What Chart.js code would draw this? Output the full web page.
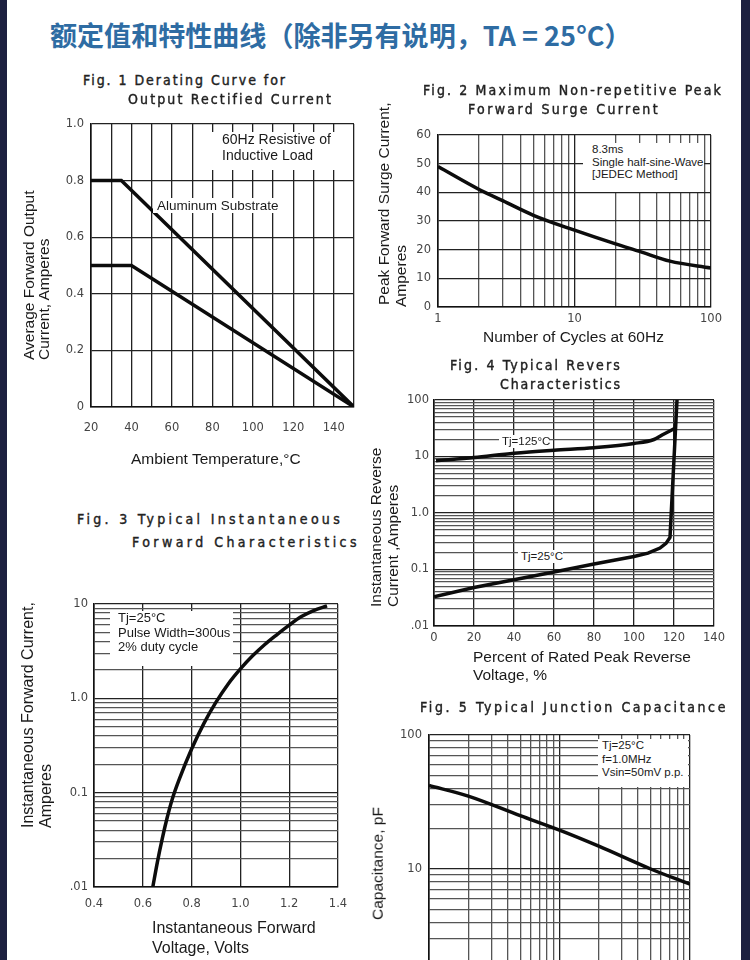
<!DOCTYPE html>
<html>
<head>
<meta charset="utf-8">
<script src="https://cdn.jsdelivr.net/npm/chart.js@4.4.1/dist/chart.umd.min.js"></script>
<style>
  html, body { margin: 0; padding: 0; }
  body { width: 750px; height: 960px; overflow: hidden; position: relative; background: #1c2040; font-family: "Liberation Sans", Arial, sans-serif; color: #1a1a1a; }
  #sheet { position: absolute; left: 7px; top: 0; width: 734px; height: 960px; background: #fff; }
  .wrap { position: absolute; }
  .t { position: absolute; white-space: nowrap; }
  .fig { position: absolute; white-space: nowrap; font-family: "DejaVu Sans Condensed", "DejaVu Sans", sans-serif; font-weight: normal; font-size: 14px; line-height: 18px; color: #222; -webkit-text-stroke: 0.4px #222; }
  .note { position: absolute; background: #fff; color: #1a1a1a; }
  #title { position: absolute; left: 50px; top: 17px; font-family: "Noto Sans CJK SC", sans-serif; font-weight: 700; font-size: 27px; line-height: 36px; color: #2e6ca3; white-space: nowrap; }
</style>
</head>
<body>
<div id="sheet"></div>
<div id="title">额定值和特性曲线（除非另有说明，TA = 25°C）</div>

<script>
// Fig. 1 derating curves
const fig1AluminumTemp = [20, 35, 150]
const fig1AluminumAmps = [0.8, 0.8, 0]
const fig1StandardTemp = [20, 40, 150]
const fig1StandardAmps = [0.5, 0.5, 0]
const fig1XGrid = [20, 30, 40, 50, 60, 70, 80, 90, 100, 110, 120, 130, 140, 150]
const fig1XTicks = [20, 40, 60, 80, 100, 120, 140]
const fig1XLabels = ['20', '40', '60', '80', '100', '120', '140']
const fig1YTicks = [0, 0.2, 0.4, 0.6, 0.8, 1.0]
const fig1YLabels = ['0', '0.2', '0.4', '0.6', '0.8', '1.0']

// Fig. 2 surge current
const fig2Cycles = [1, 2, 3, 5, 10, 20, 30, 50, 100]
const fig2SurgeAmps = [49, 41, 37, 32, 26.8, 22, 19.4, 16, 13.6]
const fig2XTicks = [1, 10, 100]
const fig2XLabels = ['1', '10', '100']
const fig2YTicks = [0, 10, 20, 30, 40, 50, 60]
const fig2YLabels = ['0', '10', '20', '30', '40', '50', '60']

// Fig. 3 forward characteristics
const fig3Volts = [0.641, 0.66, 0.68, 0.70, 0.72, 0.75, 0.80, 0.85, 0.90, 0.95, 1.0, 1.05, 1.1, 1.15, 1.2, 1.25, 1.3, 1.355]
const fig3Amps = [0.01, 0.0185, 0.0328, 0.0545, 0.0843, 0.14, 0.29, 0.54, 0.91, 1.42, 2.05, 2.82, 3.72, 4.74, 5.97, 7.35, 8.53, 9.55]
const fig3XGrid = [0.4, 0.6, 0.8, 1.0, 1.2, 1.4]
const fig3XLabels = ['0.4', '0.6', '0.8', '1.0', '1.2', '1.4']
const fig3YTicks = [0.01, 0.1, 1, 10]
const fig3YLabels = ['.01', '0.1', '1.0', '10']

// Fig. 4 reverse characteristics
const fig4Percent125 = [1, 20, 40, 60, 80, 100, 110, 115, 120.8]
const fig4Amps125 = [8.4, 9.6, 11.4, 12.9, 14.3, 17, 20, 25, 32]
const fig4Percent25 = [0, 20, 40, 60, 80, 100, 107, 113, 116, 118, 121.5]
const fig4Amps25 = [0.033, 0.048, 0.066, 0.09, 0.125, 0.17, 0.195, 0.24, 0.29, 0.37, 100]
const fig4XGrid = [0, 20, 40, 60, 80, 100, 120, 140]
const fig4XLabels = ['0', '20', '40', '60', '80', '100', '120', '140']
const fig4YTicks = [0.01, 0.1, 1, 10, 100]
const fig4YLabels = ['.01', '0.1', '1.0', '10', '100']

// Fig. 5 junction capacitance
const fig5Volts = [1, 2, 5, 10, 20, 50, 100]
const fig5PicoFarads = [42, 35, 25, 19.5, 14.8, 10, 7.7]
const fig5YTicks = [1, 10, 100]
const fig5YLabels = ['1', '10', '100']

const PAD = 24
const AXIS_W = 40
const AXIS_H = 30

// 1,2,...9 per decade for log grids
function logGrid(fromExp, toExp) {
  const out = []
  for (let e = fromExp; e < toExp; e++) {
    for (let k = 1; k < 10; k++) out.push(Number((k * Math.pow(10, e)).toPrecision(6)))
  }
  out.push(Math.pow(10, toExp))
  return out
}

function isDecade(v) {
  const l = Math.log10(v)
  return Math.abs(l - Math.round(l)) < 1e-9
}

function labelFor(v, values, labels) {
  const i = values.findIndex(t => Math.abs(t - v) < 1e-9 * Math.max(1, Math.abs(t)))
  return i < 0 ? '' : labels[i]
}

function makeScale(o) {
  const isX = o.axis === 'x'
  return {
    type: o.type,
    min: o.min,
    max: o.max,
    position: isX ? 'bottom' : 'left',
    afterBuildTicks: s => { s.ticks = o.grid.map(v => ({ value: v })) },
    afterFit: s => {
      if (isX) { s.height = AXIS_H; s.paddingLeft = 0; s.paddingRight = 0 }
      else { s.width = AXIS_W; s.paddingTop = 0; s.paddingBottom = 0 }
    },
    ticks: {
      autoSkip: false,
      maxRotation: 0,
      padding: o.pad,
      color: '#444',
      font: { family: 'DejaVu Sans', size: 11.5 },
      callback: v => labelFor(v, o.tickValues, o.tickLabels)
    },
    grid: {
      drawTicks: false,
      lineWidth: 1.3,
      color: c => (o.type === 'logarithmic' && !isDecade(c.tick.value)) ? '#555' : '#222'
    },
    border: { display: true, color: '#111', width: 1.6 }
  }
}

function curve(xs, ys, smooth) {
  return {
    data: xs.map((x, i) => ({ x: x, y: ys[i] })),
    showLine: true,
    borderColor: '#0c0c0c',
    borderWidth: 3.5,
    pointRadius: 0,
    fill: false,
    tension: smooth ? 0.4 : 0,
    cubicInterpolationMode: smooth ? 'monotone' : 'default'
  }
}

function makeChart(area, datasets, xScale, yScale) {
  const wrap = document.createElement('div')
  wrap.className = 'wrap'
  wrap.style.left = (area.left - AXIS_W - PAD) + 'px'
  wrap.style.top = (area.top - PAD) + 'px'
  wrap.style.width = (area.right - area.left + AXIS_W + 2 * PAD) + 'px'
  wrap.style.height = (area.bottom - area.top + AXIS_H + 2 * PAD) + 'px'
  const canvas = document.createElement('canvas')
  wrap.appendChild(canvas)
  document.body.appendChild(wrap)
  return new Chart(canvas, {
    type: 'scatter',
    data: { datasets: datasets },
    options: {
      responsive: true,
      maintainAspectRatio: false,
      animation: false,
      events: [],
      layout: { padding: PAD },
      plugins: { legend: { display: false }, tooltip: { enabled: false } },
      scales: { x: makeScale(Object.assign({ axis: 'x' }, xScale)), y: makeScale(Object.assign({ axis: 'y' }, yScale)) }
    }
  })
}

// text helpers
function text(str, left, cy, size) {
  const el = document.createElement('div')
  el.className = 't'
  el.textContent = str
  el.style.cssText += `left:${left}px;top:${cy - size * 0.6}px;font-size:${size}px;line-height:${size * 1.2}px;`
  document.body.appendChild(el)
}

function vtext(str, cx, bottom, size) {
  const el = document.createElement('div')
  el.className = 't'
  el.textContent = str
  el.style.cssText += `left:${cx}px;top:${bottom}px;font-size:${size}px;line-height:${size * 1.2}px;transform-origin:0 0;transform:rotate(-90deg) translate(0,-50%);`
  document.body.appendChild(el)
}

function figTitle(str, left, right, cy) {
  const el = document.createElement('div')
  el.className = 'fig'
  el.textContent = str
  el.style.left = left + 'px'
  el.style.top = (cy - 9) + 'px'
  document.body.appendChild(el)
  const w = el.getBoundingClientRect().width
  el.style.letterSpacing = ((right - left - w) / str.length) + 'px'
}

function note(left, top, width, height, lines, size, gap, pad) {
  const el = document.createElement('div')
  el.className = 'note'
  el.style.cssText += `left:${left}px;top:${top}px;width:${width}px;height:${height}px;font-size:${size}px;line-height:${gap}px;padding-left:${pad}px;box-sizing:border-box;`
  el.innerHTML = lines.map(l => `<div style="white-space:nowrap">${l}</div>`).join('')
  document.body.appendChild(el)
}

// main title fit
const titleEl = document.getElementById('title')
titleEl.style.fontSize = (27 * 582 / titleEl.getBoundingClientRect().width) + 'px'

// ---------- Fig. 1 ----------
makeChart({ left: 91, right: 354, top: 124, bottom: 407 },
  [curve(fig1AluminumTemp, fig1AluminumAmps, false), curve(fig1StandardTemp, fig1StandardAmps, false)],
  { type: 'linear', min: 20, max: 150, grid: fig1XGrid, tickValues: fig1XTicks, tickLabels: fig1XLabels, pad: 14 },
  { type: 'linear', min: 0, max: 1, grid: fig1YTicks, tickValues: fig1YTicks, tickLabels: fig1YLabels, pad: 7 })
figTitle('Fig. 1 Derating Curve for', 83, 287, 80)
figTitle('Output Rectified Current', 128, 333, 99)
note(205, 132, 146, 38, ['60Hz Resistive of', 'Inductive Load'], 14, 15.5, 17)
note(153, 198, 132, 15, ['Aluminum Substrate'], 13.5, 15, 4)
vtext('Average Forward Output', 29, 360, 15.5)
vtext('Current, Amperes', 44, 360, 15.5)
text('Ambient Temperature,°C', 131, 459, 15.5)

// ---------- Fig. 2 ----------
makeChart({ left: 438, right: 711, top: 135, bottom: 307 },
  [curve(fig2Cycles, fig2SurgeAmps, true)],
  { type: 'logarithmic', min: 1, max: 100, grid: logGrid(0, 2), tickValues: fig2XTicks, tickLabels: fig2XLabels, pad: 5 },
  { type: 'linear', min: 0, max: 60, grid: fig2YTicks, tickValues: fig2YTicks, tickLabels: fig2YLabels, pad: 7 })
figTitle('Fig. 2 Maximum Non-repetitive Peak', 423, 723, 90)
figTitle('Forward Surge Current', 468, 660, 109)
note(583, 143, 121, 49, ['8.3ms', 'Single half-sine-Wave', '[JEDEC Method]'], 11.5, 12.5, 9)
vtext('Peak Forward Surge Current,', 384, 305, 15.5)
vtext('Amperes', 401, 307, 15.5)
text('Number of Cycles at 60Hz', 483, 337, 15.5)

// ---------- Fig. 3 ----------
makeChart({ left: 94, right: 338, top: 604, bottom: 887 },
  [curve(fig3Volts, fig3Amps, true)],
  { type: 'linear', min: 0.4, max: 1.4, grid: fig3XGrid, tickValues: fig3XGrid, tickLabels: fig3XLabels, pad: 10 },
  { type: 'logarithmic', min: 0.01, max: 10, grid: logGrid(-2, 1), tickValues: fig3YTicks, tickLabels: fig3YLabels, pad: 6 })
figTitle('Fig. 3 Typical Instantaneous', 77, 343, 519)
figTitle('Forward Characteristics', 132, 360, 542)
note(110, 611, 123, 55, ['Tj=25°C', 'Pulse Width=300us', '2% duty cycle'], 13, 14.5, 8)
vtext('Instantaneous Forward Current,', 28, 828, 16)
vtext('Amperes', 46, 828, 16)
text('Instantaneous Forward', 152, 928, 16)
text('Voltage, Volts', 152, 948, 16)

// ---------- Fig. 4 ----------
makeChart({ left: 434, right: 714, top: 400, bottom: 626 },
  [curve(fig4Percent125, fig4Amps125, true), curve(fig4Percent25, fig4Amps25, false)],
  { type: 'linear', min: 0, max: 140, grid: fig4XGrid, tickValues: fig4XGrid, tickLabels: fig4XLabels, pad: 5 },
  { type: 'logarithmic', min: 0.01, max: 100, grid: logGrid(-2, 2), tickValues: fig4YTicks, tickLabels: fig4YLabels, pad: 5 })
figTitle('Fig. 4 Typical Revers', 450, 622, 365)
figTitle('Characteristics', 500, 622, 384)
note(499, 435, 50, 13, ['Tj=125°C'], 11.5, 13, 3)
note(518, 550, 45, 13, ['Tj=25°C'], 11.5, 13, 3)
vtext('Instantaneous Reverse', 376, 607, 15.5)
vtext('Current ,Amperes', 393, 607, 15.5)
text('Percent of Rated Peak Reverse', 473, 657, 15.5)
text('Voltage, %', 473, 675, 15.5)

// ---------- Fig. 5 ----------
makeChart({ left: 429, right: 690, top: 735, bottom: 1003 },
  [curve(fig5Volts, fig5PicoFarads, true)],
  { type: 'logarithmic', min: 1, max: 100, grid: logGrid(0, 2), tickValues: [], tickLabels: [], pad: 5 },
  { type: 'logarithmic', min: 1, max: 100, grid: logGrid(0, 2), tickValues: fig5YTicks, tickLabels: fig5YLabels, pad: 7 })
figTitle('Fig. 5 Typical Junction Capacitance', 420, 728, 707)
note(598, 739, 90, 48, ['Tj=25°C', 'f=1.0MHz', 'Vsin=50mV p.p.'], 11.5, 13.5, 4)
vtext('Capacitance, pF', 378, 920, 15.5)
</script>
</body>
</html>
